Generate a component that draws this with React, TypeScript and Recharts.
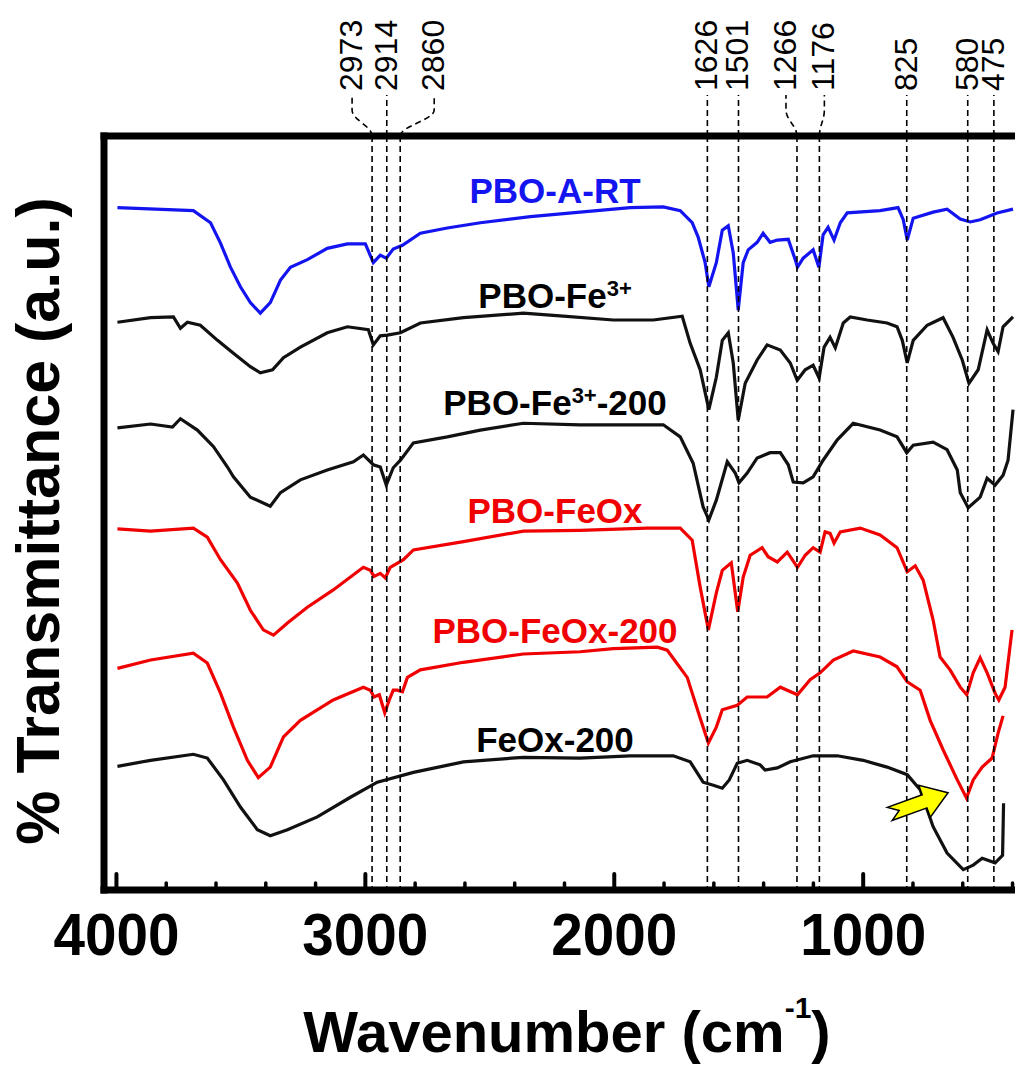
import React from "react";
import {
  LineChart,
  Line,
  XAxis,
  YAxis,
  ReferenceLine,
  ReferenceDot,
} from "recharts";

type Pt = [number, number];

// [wavenumber (cm-1), transmittance (a.u., offset)]
const pboArt: Pt[] = [
  [3996, 90.5], [3691, 90.1], [3622, 88.5], [3582, 85.8], [3542, 82.6], [3502, 80.0],
  [3462, 77.9], [3422, 76.5], [3382, 77.9], [3341, 80.9], [3301, 82.6], [3233, 83.6],
  [3153, 85.1], [3072, 85.7], [3000, 85.7], [2968, 83.2], [2940, 84.2], [2916, 83.8],
  [2888, 85.0], [2851, 85.5], [2779, 87.1], [2671, 87.8], [2538, 88.5], [2337, 89.3],
  [2137, 89.9], [1936, 90.5], [1803, 90.6], [1735, 90.1], [1687, 88.5], [1663, 86.6],
  [1635, 83.2], [1620, 80.0], [1590, 83.2], [1566, 87.5], [1542, 88.1], [1522, 84.5],
  [1502, 76.9], [1482, 83.2], [1462, 84.9], [1426, 85.9], [1402, 87.1], [1374, 85.9],
  [1345, 86.2], [1301, 86.3], [1273, 83.6], [1264, 82.6], [1241, 83.8], [1201, 84.9],
  [1178, 82.6], [1161, 86.9], [1141, 87.9], [1117, 86.2], [1092, 88.5], [1064, 89.8],
  [932, 90.1], [860, 90.5], [839, 88.9], [823, 86.2], [799, 89.1], [719, 89.9],
  [663, 90.3], [610, 89.0], [570, 88.6], [530, 88.9], [462, 89.8], [398, 90.3],
];

const pboFe: Pt[] = [
  [3996, 75.3], [3863, 75.9], [3771, 76.0], [3743, 74.5], [3715, 75.3], [3663, 74.9],
  [3594, 72.9], [3530, 71.2], [3462, 69.4], [3422, 68.6], [3373, 69.0], [3329, 70.6],
  [3261, 72.0], [3153, 73.9], [3072, 74.7], [2988, 74.3], [2968, 72.3], [2940, 73.5],
  [2912, 73.6], [2859, 73.9], [2779, 75.2], [2606, 75.9], [2365, 76.5], [2205, 76.1],
  [2004, 75.6], [1843, 75.6], [1727, 76.1], [1695, 72.5], [1655, 69.0], [1620, 63.7],
  [1590, 68.0], [1566, 72.9], [1542, 73.9], [1522, 69.9], [1502, 62.3], [1474, 67.2],
  [1426, 70.3], [1386, 72.3], [1333, 71.6], [1293, 69.9], [1265, 67.6], [1233, 69.0],
  [1201, 69.6], [1177, 67.9], [1157, 72.0], [1133, 73.3], [1112, 71.9], [1080, 75.2],
  [1052, 76.0], [984, 75.6], [904, 75.2], [864, 74.7], [843, 72.9], [823, 69.9],
  [799, 72.9], [743, 74.9], [679, 75.9], [639, 73.3], [602, 70.3], [575, 67.2],
  [538, 69.0], [502, 74.3], [478, 72.5], [458, 71.4], [438, 74.7], [398, 76.0],
];

const pboFe200: Pt[] = [
  [3996, 61.3], [3863, 61.8], [3775, 61.4], [3743, 62.5], [3675, 61.0], [3610, 58.8],
  [3554, 56.1], [3530, 54.8], [3462, 52.1], [3382, 50.9], [3341, 52.7], [3261, 54.4],
  [3153, 55.7], [3048, 56.8], [3008, 57.7], [2968, 56.4], [2940, 56.1], [2916, 53.7],
  [2888, 56.0], [2859, 57.0], [2807, 59.3], [2671, 60.1], [2538, 61.0], [2365, 61.9],
  [2137, 61.7], [1803, 61.7], [1735, 60.1], [1683, 56.6], [1643, 50.8], [1620, 49.1],
  [1590, 51.7], [1546, 56.8], [1514, 55.3], [1499, 54.0], [1466, 55.3], [1426, 57.3],
  [1374, 58.0], [1333, 58.0], [1301, 56.4], [1281, 54.1], [1241, 54.0], [1201, 54.8],
  [1161, 57.0], [1104, 59.7], [1040, 61.9], [932, 61.0], [864, 60.1], [825, 58.0],
  [799, 59.0], [719, 59.4], [663, 58.4], [622, 55.7], [610, 52.7], [578, 50.7],
  [530, 52.1], [502, 54.6], [470, 53.7], [438, 55.0], [418, 57.0], [398, 63.7],
];

const pboFeOx: Pt[] = [
  [3996, 47.9], [3863, 47.6], [3691, 48.0], [3635, 46.8], [3582, 43.8], [3514, 40.7],
  [3462, 37.1], [3410, 34.5], [3369, 33.8], [3313, 35.4], [3233, 37.5], [3129, 39.8],
  [3008, 42.8], [2980, 42.4], [2965, 41.6], [2940, 42.0], [2920, 41.4], [2900, 42.8],
  [2847, 43.8], [2807, 45.1], [2606, 46.2], [2365, 47.6], [2137, 47.7], [1868, 48.0],
  [1735, 48.0], [1687, 46.4], [1655, 40.2], [1622, 34.5], [1590, 39.4], [1566, 42.4],
  [1530, 43.4], [1504, 36.9], [1482, 41.5], [1454, 44.4], [1406, 45.4], [1382, 44.2],
  [1345, 43.5], [1305, 44.8], [1264, 42.8], [1233, 44.4], [1201, 45.4], [1173, 44.8],
  [1153, 47.5], [1133, 47.3], [1117, 46.0], [1092, 47.5], [1012, 48.0], [932, 47.1],
  [864, 45.4], [823, 42.2], [791, 43.0], [759, 41.1], [719, 35.8], [691, 30.9],
  [651, 29.2], [610, 26.9], [584, 25.9], [558, 28.8], [530, 30.8], [502, 28.8],
  [470, 26.1], [455, 25.2], [430, 26.9], [402, 34.5],
];

const pboFeOx200: Pt[] = [
  [3996, 29.4], [3863, 30.5], [3691, 31.4], [3635, 30.1], [3582, 26.1], [3530, 21.6],
  [3474, 17.2], [3430, 14.9], [3382, 16.3], [3329, 20.3], [3261, 22.5], [3129, 25.2],
  [3008, 26.9], [2980, 26.5], [2965, 25.6], [2944, 25.9], [2922, 23.5], [2904, 25.2],
  [2888, 26.5], [2872, 26.5], [2851, 26.3], [2831, 28.2], [2779, 29.2], [2606, 30.2],
  [2365, 31.3], [2137, 31.6], [2004, 32.0], [1827, 32.2], [1787, 31.8], [1707, 28.2],
  [1655, 22.8], [1622, 19.5], [1590, 21.6], [1566, 23.9], [1506, 24.5], [1466, 25.6],
  [1386, 25.6], [1333, 26.9], [1264, 25.9], [1213, 27.9], [1173, 28.8], [1120, 30.5],
  [1040, 31.7], [932, 30.9], [864, 29.6], [823, 27.6], [771, 26.5], [731, 22.5],
  [679, 18.6], [622, 14.6], [585, 12.2], [558, 14.6], [522, 16.3], [482, 17.5],
  [458, 20.8], [438, 23.1],
];

const feOx200: Pt[] = [
  [3996, 16.4], [3863, 17.2], [3691, 18.0], [3635, 17.5], [3570, 14.6], [3502, 11.0],
  [3434, 8.0], [3382, 7.2], [3313, 8.0], [3193, 9.7], [3060, 12.3], [2952, 14.3],
  [2807, 15.6], [2606, 17.0], [2365, 17.6], [2137, 17.5], [1936, 17.8], [1763, 17.8],
  [1695, 17.0], [1643, 14.3], [1602, 13.9], [1566, 13.5], [1538, 14.6], [1506, 16.8],
  [1466, 17.2], [1414, 16.6], [1394, 15.9], [1345, 16.2], [1293, 17.0], [1201, 17.8],
  [1104, 17.8], [1000, 17.2], [904, 16.3], [823, 15.3], [771, 13.3], [719, 8.4],
  [663, 4.9], [598, 2.7], [558, 3.3], [522, 4.2], [470, 3.6], [440, 4.6],
  [436, 11.5],
];

const seriesNames = ["PBO-A-RT", "PBO-Fe3+", "PBO-Fe3+-200", "PBO-FeOx", "PBO-FeOx-200", "FeOx-200"];
const seriesColors = ["#1414f0", "#111111", "#111111", "#f00000", "#f00000", "#111111"];
const seriesData = [pboArt, pboFe, pboFe200, pboFeOx, pboFeOx200, feOx200];

// where each curve's name sits (wavenumber, a.u.)
const seriesTagAt: Pt[] = [
  [2238, 91.1], [2238, 77.2], [2238, 63.0], [2238, 48.7], [2238, 32.8], [2238, 18.3],
];

const peakBands = [2973, 2914, 2860, 1626, 1501, 1266, 1176, 825, 580, 475];
const peakLabelShift: Record<number, number> = { 2973: -20, 2860: 34, 1266: -11, 1176: 5 };

const majorTicks = [4000, 3000, 2000, 1000];
const allTicks = [
  4000, 3800, 3600, 3400, 3200, 3000, 2800, 2600, 2400, 2200, 2000,
  1800, 1600, 1400, 1200, 1000, 800, 600, 400,
];

const arrowAt: Pt = [659, 12.9];

const FONT = "'Liberation Sans', Arial, Helvetica, sans-serif";

const WaveTick = (props: any) => {
  const { x, y, payload } = props;
  const major = majorTicks.includes(payload.value);
  return (
    <g>
      <line
        x1={x}
        x2={x}
        y1={y - 3}
        y2={y - (major ? 16 : 7)}
        stroke="#000"
        strokeWidth={major ? 4 : 3.5}
        strokeLinecap="round"
      />
      {major && (
        <text
          x={x}
          y={y + 65}
          textAnchor="middle"
          fontFamily={FONT}
          fontWeight="bold"
          fontSize={59}
          textLength={126}
          lengthAdjust="spacingAndGlyphs"
          fill="#000"
        >
          {payload.value}
        </text>
      )}
    </g>
  );
};

const PeakMarker = (props: any) => {
  const { x1, y1, y2, band } = props;
  const top = Math.min(y1, y2);
  const bottom = Math.max(y1, y2);
  const shift = peakLabelShift[band] ?? 0;
  const lx = x1 + shift;
  const leader =
    shift === 0
      ? `M${x1},${top} L${x1},${top - 41}`
      : `M${x1},${top} C${x1},${top - 10} ${lx},${top - 16} ${lx},${top - 26} L${lx},${top - 41}`;
  return (
    <g>
      <line x1={x1} x2={x1} y1={top} y2={bottom} stroke="#000" strokeWidth={1.6} strokeDasharray="6 4" />
      <path d={leader} fill="none" stroke="#000" strokeWidth={1.6} strokeDasharray="6 4" />
      <text
        transform={`translate(${lx + 10},${top - 45}) rotate(-90)`}
        fontFamily={FONT}
        fontSize={32}
        fill="#000"
      >
        {band}
      </text>
    </g>
  );
};

const SeriesTag = ({ cx, cy, name, color }: any) => {
  const sup = name.indexOf("3+");
  const parts =
    sup < 0 ? (
      <tspan>{name}</tspan>
    ) : (
      <>
        <tspan>{name.slice(0, sup)}</tspan>
        <tspan dy={-12} fontSize={22}>3+</tspan>
        {name.length > sup + 2 && <tspan dy={12}>{name.slice(sup + 2)}</tspan>}
      </>
    );
  return (
    <text x={cx} y={cy} textAnchor="middle" fontFamily={FONT} fontWeight="bold" fontSize={35} fill={color}>
      {parts}
    </text>
  );
};

const YellowArrow = ({ cx, cy }: any) => {
  const shape: Pt[] = [[0, 0], [-25, -17], [-25, -7], [-62, -7], [-52, 0], [-62, 7], [-25, 7], [-25, 17]];
  const a = (-20 * Math.PI) / 180;
  const pts = shape
    .map(([x, y]) => `${cx + x * Math.cos(a) - y * Math.sin(a)},${cy + x * Math.sin(a) + y * Math.cos(a)}`)
    .join(" ");
  return <polygon points={pts} fill="#ffff00" stroke="#000" strokeWidth={1.5} />;
};

const YTitle = (props: any) => {
  const vb = props.viewBox || { x: 44, y: 136, width: 60, height: 754 };
  const x = vb.x + 15;
  const y = vb.y + vb.height / 2 + 8;
  return (
    <text
      transform={`translate(${x},${y}) rotate(-90)`}
      textAnchor="middle"
      fontFamily={FONT}
      fontWeight="bold"
      fontSize={61}
      fill="#000"
    >
      % Transmittance (a.u.)
    </text>
  );
};

const XTitle = (props: any) => {
  const vb = props.viewBox || { x: 104, y: 890, width: 916, height: 175 };
  return (
    <text x={vb.x + 463} y={vb.y + 162} textAnchor="middle" fontFamily={FONT} fontWeight="bold" fontSize={58} fill="#000">
      Wavenumber (cm
      <tspan dy={-34} fontSize={30}>-1</tspan>
      <tspan dy={34}>)</tspan>
    </text>
  );
};

export default function App() {
  return (
    <div
      style={{
        position: "fixed",
        left: 0,
        top: 0,
        width: 1015,
        height: 1065,
        overflow: "hidden",
        background: "#fff",
      }}
    >
      <LineChart width={1040} height={1065} margin={{ top: 136, right: 20, bottom: 0, left: 44 }}>
        <XAxis
          type="number"
          dataKey="w"
          domain={[370, 4050]}
          reversed
          allowDataOverflow
          ticks={allTicks}
          interval={0}
          tickSize={0}
          tickMargin={0}
          tickLine={false}
          tick={(p: any) => <WaveTick {...p} />}
          height={175}
          axisLine={{ stroke: "#000", strokeWidth: 7, strokeLinecap: "square" }}
          label={(p: any) => <XTitle {...p} />}
        />
        <YAxis
          type="number"
          domain={[0, 100]}
          allowDataOverflow
          width={60}
          tick={false}
          tickLine={false}
          axisLine={{ stroke: "#000", strokeWidth: 7, strokeLinecap: "square" }}
          label={(p: any) => <YTitle {...p} />}
        />
        {seriesData.map((pts, i) => (
          <Line
            key={seriesNames[i]}
            name={seriesNames[i]}
            data={pts.map(([w, t]) => ({ w, t }))}
            dataKey="t"
            type="linear"
            stroke={seriesColors[i]}
            strokeWidth={3.2}
            dot={false}
            activeDot={false}
            isAnimationActive={false}
          />
        ))}
        <ReferenceLine y={100} stroke="#000" strokeWidth={7} strokeLinecap="square" />
        {peakBands.map((b) => (
          <ReferenceLine key={b} x={b} shape={(p: any) => <PeakMarker {...p} band={b} />} />
        ))}
        {seriesNames.map((n, i) => (
          <ReferenceDot
            key={n}
            x={seriesTagAt[i][0]}
            y={seriesTagAt[i][1]}
            r={0}
            shape={(p: any) => <SeriesTag {...p} name={n} color={seriesColors[i] === "#111111" ? "#000" : seriesColors[i]} />}
          />
        ))}
        <ReferenceDot x={arrowAt[0]} y={arrowAt[1]} r={0} shape={(p: any) => <YellowArrow {...p} />} />
      </LineChart>
    </div>
  );
}
